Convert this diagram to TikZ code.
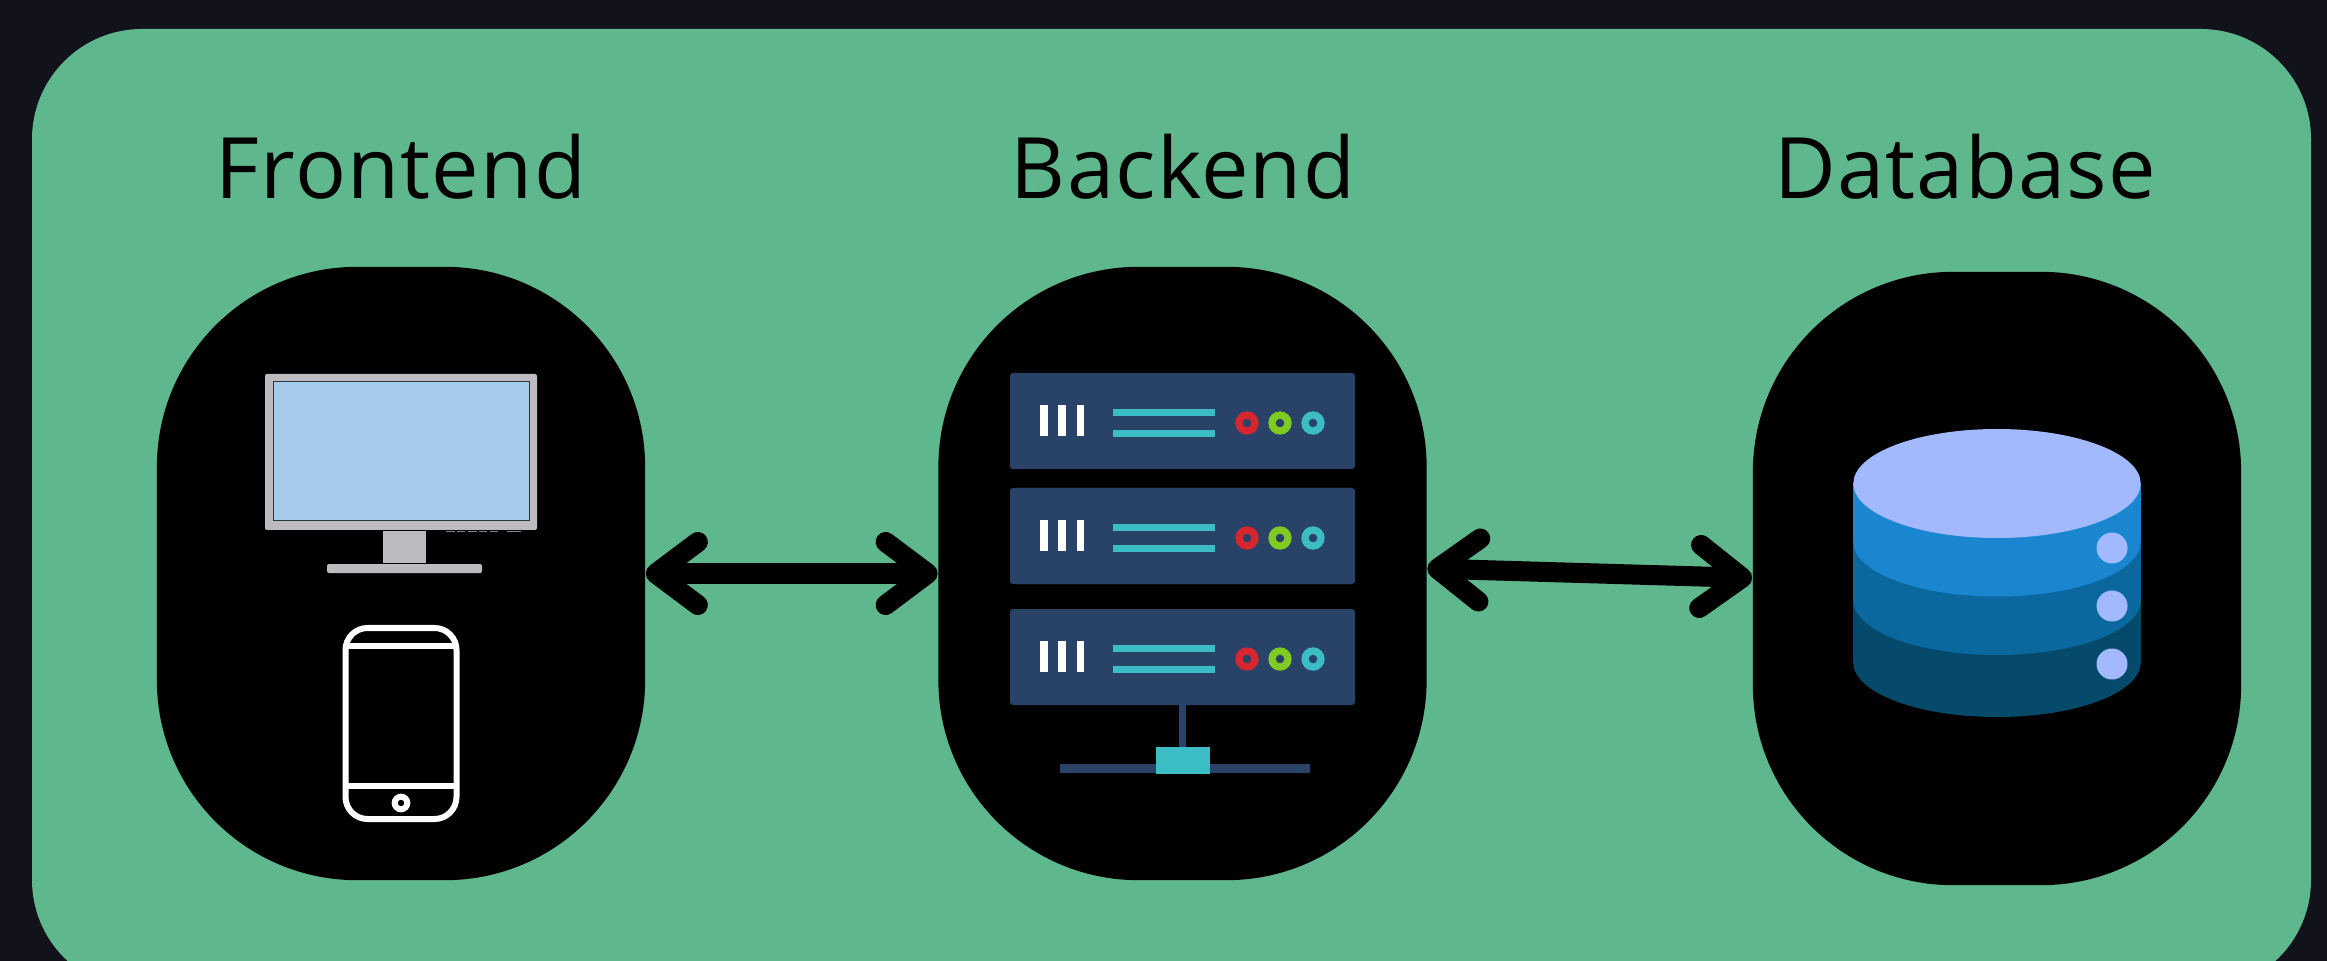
\documentclass[tikz,border=0pt]{standalone}
\usepackage{fontspec}
\setmainfont{Open Sans}[LetterSpace=1.5]
\usetikzlibrary{arrows.meta}
\definecolor{bgdark}{HTML}{12131A}
\definecolor{leaf}{HTML}{5FB78D}
\definecolor{casing}{HTML}{BDBBC0}
\definecolor{screenblue}{HTML}{A4CBEC}
\definecolor{rack}{HTML}{284268}
\definecolor{rackteal}{HTML}{3CBDC6}
\definecolor{ledred}{HTML}{D8262F}
\definecolor{ledgreen}{HTML}{7FCB22}
\definecolor{dbtop}{HTML}{A3B9FD}
\definecolor{dbone}{HTML}{1A86D0}
\definecolor{dbtwo}{HTML}{0A689F}
\definecolor{dbthree}{HTML}{064A6B}
\tikzset{
	tier/.style={fill=black,minimum width=4.88cm,minimum height=6.13cm,rounded corners=2cm,inner sep=0pt},
	title/.style={anchor=base,font=\fontsize{24.1}{30}\selectfont},
	link/.style={line width=.2cm,line cap=round,line join=round,{Straight Barb[length=4.2mm,width=6.3mm,round]}-{Straight Barb[length=4.2mm,width=6.3mm,round]}},
	phoneline/.style={draw=white,line width=.6mm}
}
\begin{document}
\begin{tikzpicture}[x=.01cm,y=-.01cm]
	\useasboundingbox (0,0) rectangle (2327,961);
	\clip (0,0) rectangle (2327,961);
	\fill [bgdark] (0,0) rectangle (2327,961);
	\fill [leaf,rounded corners=1.1cm] (32,29) rectangle (2311,990);

	\node [tier] (frontend) at (401,573.5) {};
	\node [tier] (backend) at (1182.5,573.5) {};
	\node [tier] (database) at (1997,578.5) {};
	\node [title] (frontendtitle) at (401,199) {Frontend};
	\node [title] (backendtitle) at (1183,199) {Backend};
	\node [title] (databasetitle) at (1965,199) {Database};

	\draw [link] (frontend.east) -- (backend.west);
	\draw [link] ([yshift=.05cm]backend.east) -- ([yshift=.005cm]database.west);

	\fill [casing,rounded corners=.02cm] (265,374) rectangle (537,530);
	\draw [black!75!screenblue,fill=screenblue,line width=.1mm] (273,382) rectangle (529,521);
	\fill [casing] (383,531) rectangle (426,563);
	\fill [casing,rounded corners=.02cm] (327,564) rectangle (482,573);
	\foreach \a/\b in {446/455,457/465,468/477,479/487,490/498,507/521}
		\draw [casing!70!black,line width=.06mm] (\a,531.5) -- (\b,531.5);

	\draw [phoneline,rounded corners=.22cm] (345.5,628) rectangle (456.5,819);
	\draw [phoneline] (345.5,646) -- (456.5,646);
	\draw [phoneline] (345.5,786) -- (456.5,786);
	\draw [phoneline] (401,803) circle (6.3);

	\foreach \t in {373,488,609} {
		\fill [rack,rounded corners=.03cm] (1010,\t) rectangle (1355,\t+96);
		\foreach \a in {1040,1058,1076.5}
			\fill [white] (\a,\t+32) rectangle (\a+7.5,\t+63);
		\fill [rackteal] (1113,\t+36) rectangle (1215,\t+43);
		\fill [rackteal] (1113,\t+57) rectangle (1215,\t+64);
		\foreach \a/\c in {1247/ledred,1280/ledgreen,1313/rackteal} {
			\fill [\c] (\a,\t+50) circle (11.7);
			\fill [rack] (\a,\t+50) circle (4.3);
		}
	}
	\fill [rack] (1179,705) rectangle (1186,748);
	\fill [rack] (1060,764) rectangle (1310,773);
	\fill [rackteal] (1156,747) rectangle (1210,774);

	\foreach \y/\c in {662.5/dbthree,600.5/dbtwo,542/dbone} {
		\fill [\c] (1853.3,483.5) rectangle (2140.7,\y);
		\fill [\c] (1997,\y) ellipse [x radius=143.7,y radius=54.5];
	}
	\fill [dbtop] (1997,483.5) ellipse [x radius=143.7,y radius=54.5];
	\foreach \y in {548,606,664}
		\fill [dbtop] (2112,\y) circle (15.5);
\end{tikzpicture}
\end{document}
